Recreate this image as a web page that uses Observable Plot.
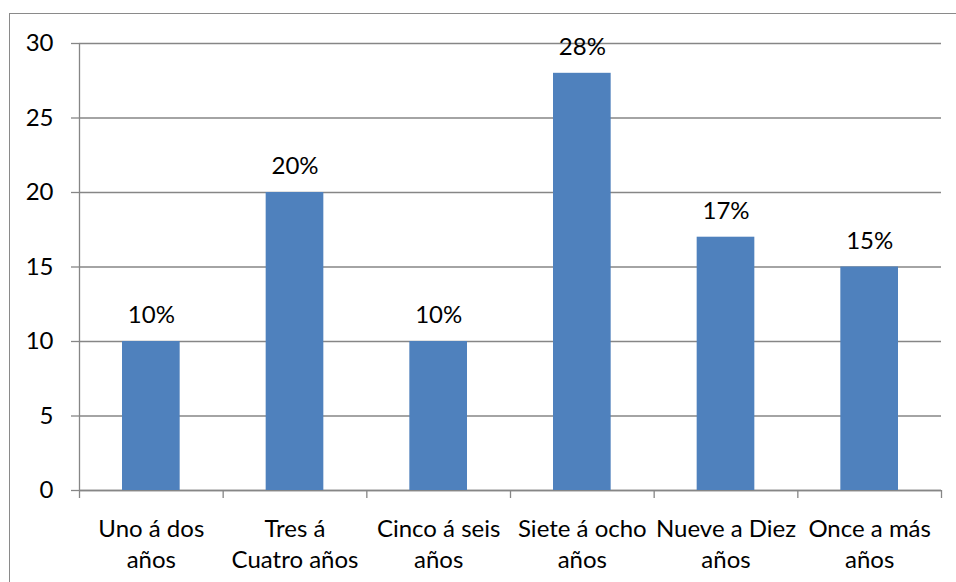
<!DOCTYPE html>
<html>
<head>
<meta charset="utf-8">
<script src="https://cdn.jsdelivr.net/npm/d3@7"></script>
<script src="https://cdn.jsdelivr.net/npm/@observablehq/plot@0.6"></script>
<style>
  html, body { margin: 0; padding: 0; background: #fff; overflow: hidden; }
  #wrap { position: relative; width: 956px; height: 582px; }
  #frame { position: absolute; left: 9px; top: 13px; width: 1000px; height: 700px;
           border-left: 1.5px solid #8a8a8a; border-top: 1.5px solid #8a8a8a; box-sizing: border-box; }
  #chart { position: absolute; left: 0; top: 0; }
</style>
</head>
<body>
<div id="wrap"><div id="frame"></div><div id="chart"></div></div>
<script>
const categories = ["Uno á dos\naños", "Tres á\nCuatro años", "Cinco á seis\naños", "Siete á ocho\naños", "Nueve a Diez\naños", "Once a más\naños"];
const values = [10, 20, 10, 28, 17, 15];
const yTicks = [0, 5, 10, 15, 20, 25, 30];

const data = categories.map((c, i) => ({idx: i, label: c, value: values[i]}));
const gray = "#868686";
const font = "Lato, 'Open Sans', sans-serif";

const chart = Plot.plot({
  width: 956,
  height: 582,
  marginTop: 43,
  marginRight: 15,
  marginBottom: 92,
  marginLeft: 79,
  style: {fontFamily: font, fontSize: "24px", color: "#000", background: "transparent"},
  x: {domain: [0, categories.length], axis: null},
  y: {domain: [0, 30], axis: null},
  marks: [
    Plot.gridY(yTicks, {stroke: gray, strokeOpacity: 1, strokeWidth: 1.3}),
    Plot.axisY(yTicks, {tickSize: 8, tickPadding: 18, stroke: gray, strokeOpacity: 1, strokeWidth: 1.3,
      fill: "#000", fontSize: 24, fontFamily: font, label: null}),
    Plot.axisX(d3.range(categories.length + 1), {tickSize: 8, tickFormat: () => "", stroke: gray,
      strokeOpacity: 1, strokeWidth: 1.3, label: null}),
    Plot.ruleX([0], {stroke: gray, strokeWidth: 1.3}),
    Plot.ruleY([0], {stroke: gray, strokeWidth: 1.3}),
    Plot.rectY(data, {x1: d => d.idx, x2: d => d.idx + 1, y1: 0, y2: "value",
      insetLeft: 43, insetRight: 43, fill: "#4F81BD"}),
    Plot.text(data, {x: d => d.idx + 0.5, y: "value", text: d => `${d.value}%`,
      dy: -26, fill: "#000", fontSize: 24, fontFamily: font}),
    Plot.text(data, {x: d => d.idx + 0.5, y: 0, text: "label", lineAnchor: "top",
      dy: 24, lineHeight: 1.3, fill: "#000", fontSize: 24, fontFamily: font})
  ]
});
document.getElementById("chart").appendChild(chart);
</script>
</body>
</html>
